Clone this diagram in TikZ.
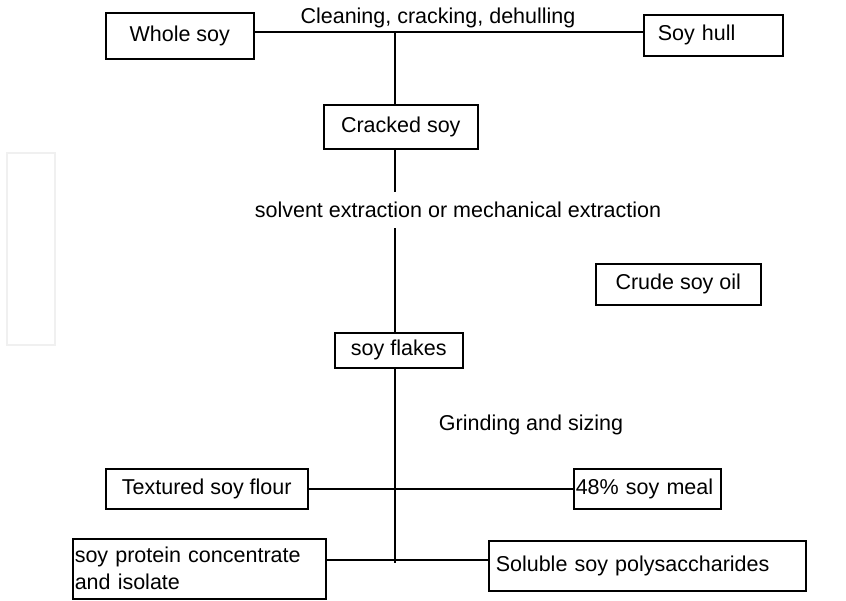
\documentclass[tikz,border=0pt]{standalone}
\usepackage{fontspec}
\setmainfont{Liberation Sans}

\begin{document}
\begin{tikzpicture}[
      x=1pt, y=-1pt,
      every path/.style={line width=1.5pt},
      box/.style={draw, line width=1.5pt, anchor=north west, inner sep=0pt,
        font=\fontsize{21.5}{27}\selectfont},
      leftbox/.style={box, align=left, inner xsep=#1},
      leftbox/.default=3pt,
      step label/.style={font=\fontsize{21.5}{27}\selectfont, inner sep=0pt}]
    \useasboundingbox (0,0) rectangle (846,600);
    \draw[black!6, line width=2.5pt] (7,153) rectangle (55,345);

    \node[box, minimum width=148, minimum height=46] (whole) at (105,12) {Whole soy};
    \node[leftbox=14pt, text width=111pt, minimum height=41] (hull) at (643,14) {Soy hull};
    \node[box, minimum width=154, minimum height=44] (cracked) at (323,104) {Cracked soy};
    \node[box, minimum width=128, minimum height=35] (flakes) at (334,332) {soy flakes};
    \node[box, minimum width=165, minimum height=41] (oil) at (595,263) {Crude soy oil};
    \node[box, minimum width=202, minimum height=40] (flour) at (105,468) {Textured soy flour};
    \node[leftbox=2pt, text width=143pt, minimum height=40] (meal) at (573,468) {48\% soy meal};
    \node[leftbox=2pt, text width=249pt, minimum height=60] (protein) at (72,538) {soy protein concentrate\\and isolate};
    \node[leftbox=7pt, text width=303pt, minimum height=50] (soluble) at (488,540) {Soluble soy polysaccharides};

    \coordinate (jtop) at (395,32);
    \coordinate (jbot) at (394,560);

    \draw (whole.east |- jtop) -- (hull.west |- jtop);
    \draw (jtop) -- (jtop |- cracked.north);
    \draw (jtop |- cracked.south) -- (jtop |- flakes.north);
    \draw (jtop |- flakes.south) -- ([yshift=-3pt]jtop |- jbot);
    \draw (flour.east) -- (flour.east -| meal.west);
    \draw (protein.east |- jbot) -- (soluble.west |- jbot);

    \node[step label] (clean) at (438,18) {Cleaning, cracking, dehulling};
    \node[step label, fill=white, minimum height=36] (solvent) at (458,210) {solvent extraction or mechanical extraction};
    \node[step label] (grind) at (531,425) {Grinding and sizing};
\end{tikzpicture}
\end{document}
